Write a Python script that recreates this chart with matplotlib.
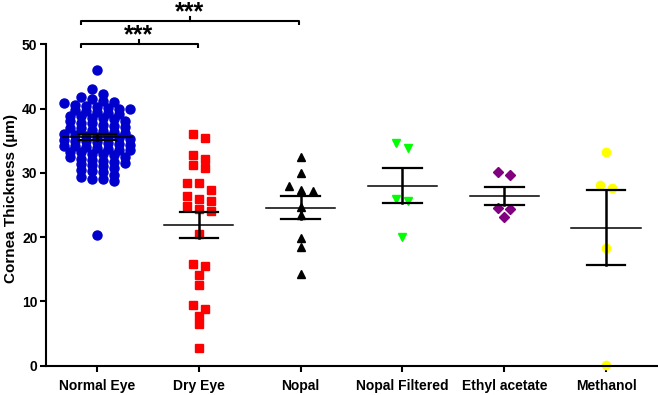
import numpy as np
import matplotlib
matplotlib.use("Agg")
import matplotlib.pyplot as plt

plt.rcParams['font.family'] = ['Liberation Sans', 'DejaVu Sans']

# group names as on the x axis
groups = ['Normal Eye', 'Dry Eye', 'Nopal', 'Nopal Filtered', 'Ethyl acetate', 'Methanol']

# values (um)
normal_eye = [46.0, 43.0, 42.3, 41.8, 41.5, 41.2, 41.0, 40.8, 40.6, 40.4, 40.3, 40.1,
              40.0, 40.0, 39.8, 39.6, 39.5, 39.3, 39.1, 38.9, 38.8, 38.6, 38.5, 38.3,
              38.1, 38.0, 37.8, 37.7, 37.5, 37.3, 37.2, 37.0, 36.9, 36.7, 36.5, 36.4,
              36.2, 36.0, 35.9, 35.8, 35.6, 35.5, 35.4, 35.2, 35.1, 35.0, 34.9, 34.8,
              34.6, 34.5, 34.4, 34.2, 34.1, 34.0, 33.9, 33.7, 33.6, 33.5, 33.3, 33.2,
              33.0, 32.9, 32.7, 32.5, 32.4, 32.2, 32.0, 31.8, 31.7, 31.6, 31.4, 31.2,
              31.0, 30.8, 30.5, 30.3, 30.2, 29.7, 29.3, 29.1, 29.0, 28.7, 20.3]
dry_eye = [36.1, 35.4, 32.8, 32.2, 31.2, 30.7, 28.4, 28.4, 27.4, 26.4, 25.9, 25.6,
           24.9, 24.0, 24.3, 20.5, 15.5, 14.1, 15.8, 12.5, 8.8, 7.8, 9.4, 6.5, 2.7]
nopal = [32.5, 29.9, 27.3, 28.0, 27.1, 24.7, 23.4, 19.8, 18.4, 14.3]
nopal_filtered = [33.8, 34.6, 26.0, 25.6, 20.0]
ethyl_acetate = [30.2, 29.6, 24.6, 24.3, 23.2]
methanol = [33.2, 27.6, 28.1, 18.3, 0.1]

series = [normal_eye, dry_eye, nopal, nopal_filtered, ethyl_acetate, methanol]
colors = ['#0000CC', '#FF0000', '#000000', '#00FF00', '#800080', '#FFFF00']
markers = ['o', 's', '^', 'v', 'D', 'o']
msizes = [6.5, 6.3, 6.3, 6.3, 5.0, 6.0]

# pixel scales of the axes (for the scatter layout)
PX_X = 101.8
PX_Y = 6.43


# prism-like layout: points with close values go in one row, centred
def row_offsets(vals, bin_px, spacing_px):
    vals = np.asarray(vals)
    order = np.argsort(vals)[::-1]
    offs = np.zeros(len(vals))
    rows = []
    for i in order:
        if rows and (vals[rows[-1][0]] - vals[i]) * PX_Y < bin_px:
            rows[-1].append(i)
        else:
            rows.append([i])
    for r in rows:
        n = len(r)
        for j, i in enumerate(r):
            offs[i] = (j - (n - 1) / 2) * spacing_px / PX_X
    return offs


fig = plt.figure(figsize=(6.58, 3.95), dpi=100)
ax = fig.add_axes([0.0695, 0.0742, 0.9305, 0.8138])

for i, vals in enumerate(series):
    vals = np.array(vals)
    if i == 0:
        xo = row_offsets(vals, 5.5, 11)
    else:
        xo = row_offsets(vals, 7.0, 12)
    ax.plot(i + xo, vals, linestyle='none', marker=markers[i], ms=msizes[i],
            color=colors[i], mec=colors[i], zorder=2, clip_on=False)
    m = vals.mean()
    sem = vals.std(ddof=1) / np.sqrt(len(vals))
    ax.plot([i - 0.34, i + 0.34], [m, m], color='black', lw=1.1, zorder=3)
    ax.plot([i, i], [m - sem, m + sem], color='black', lw=1.8, zorder=3)
    for yy in (m - sem, m + sem):
        ax.plot([i - 0.19, i + 0.19], [yy, yy], color='black', lw=1.6, zorder=3)

# significance brackets
def bracket(x0, x1, y, xm, ystar):
    ax.plot([x0, x0, x1, x1], [y - 0.6, y, y, y - 0.6], color='black', lw=1.5,
            clip_on=False, solid_capstyle='butt')
    ax.plot([xm, xm], [y, y + 0.6], color='black', lw=1.5, clip_on=False)
    ax.text(xm, ystar, '***', ha='center', va='center', fontsize=18,
            fontweight='bold', clip_on=False)

bracket(-0.157, 0.995, 50.0, 0.41, 51.4)
bracket(-0.157, 1.98, 53.6, 0.91, 55.0)

ax.set_xlim(-0.504, 5.51)
ax.set_ylim(0, 50)
ax.set_yticks([0, 10, 20, 30, 40, 50])
ax.set_xticks(range(len(groups)))
ax.set_xticklabels(groups)
for lab in ax.get_xticklabels() + ax.get_yticklabels():
    lab.set_fontweight('bold')
    lab.set_fontsize(10)
ax.tick_params(axis='y', length=4, width=1.5, pad=2)
ax.tick_params(axis='x', length=4.5, width=1.5, pad=5)
ax.spines['top'].set_visible(False)
ax.spines['right'].set_visible(False)
ax.spines['left'].set_linewidth(1.5)
ax.spines['bottom'].set_linewidth(1.5)
ax.set_ylabel('Cornea Thickness (µm)', fontsize=11, fontweight='bold')
ax.yaxis.set_label_coords(-0.046, 0.52)

fig.savefig('out.png', dpi=100)
